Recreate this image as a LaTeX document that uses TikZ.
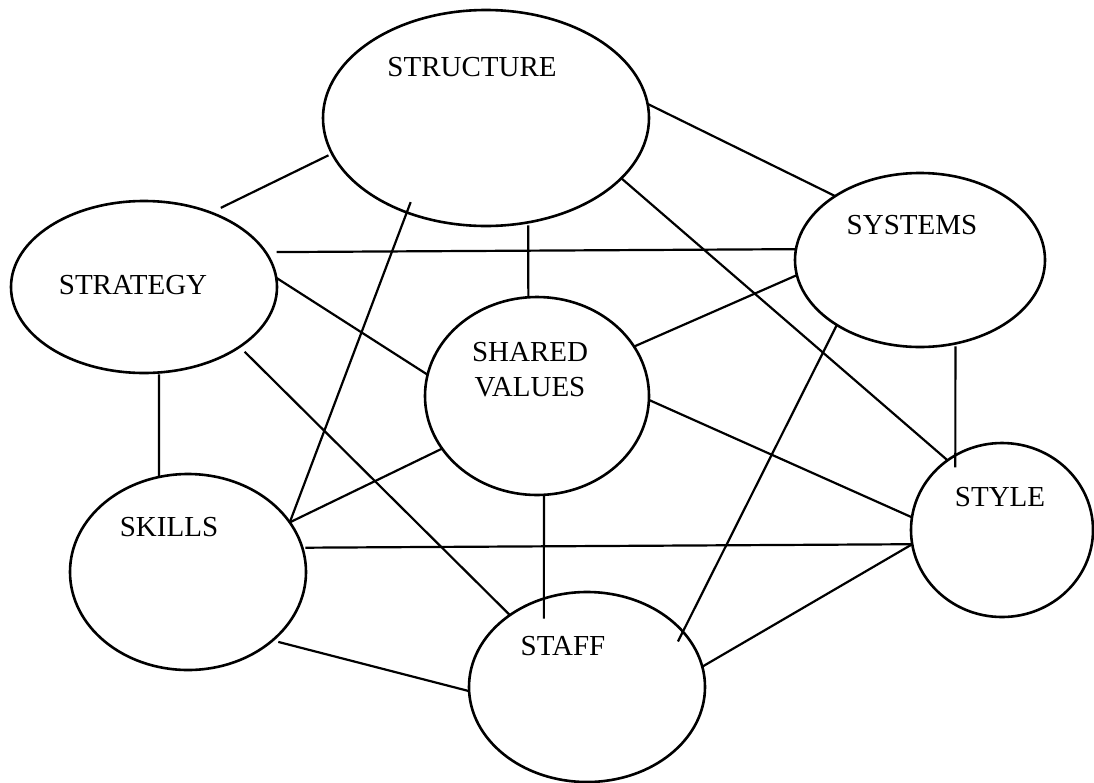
\documentclass[tikz,border=0pt]{standalone}
\usepackage{fontspec}
\setmainfont{Liberation Serif}
\usetikzlibrary{shapes.geometric}
\begin{document}
\begin{tikzpicture}[x=1pt,y=-1pt,
  oval/.style={ellipse, draw, line width=2.6pt, inner sep=0pt, outer sep=0pt},
  caption/.style={font=\fontsize{29}{35}\selectfont, inner sep=0pt, align=center},
  link/.style={line width=2.2pt}]
\useasboundingbox (0,0) rectangle (1094,782);

% the seven elements
\node[oval, minimum width=326pt, minimum height=216pt] (structure) at (486,118) {};
\node[oval, minimum width=266pt, minimum height=172pt] (strategy)  at (144,287) {};
\node[oval, minimum width=250pt, minimum height=174pt] (systems)   at (920,260) {};
\node[oval, minimum width=224pt, minimum height=198pt] (shared)    at (537,396) {};
\node[oval, minimum width=236pt, minimum height=196pt] (skills)    at (188,572) {};
\node[oval, minimum width=236pt, minimum height=190pt] (staff)     at (587,687) {};
\node[oval, minimum width=182pt, minimum height=174pt] (style)     at (1002,530) {};

% their names
\node[caption] (structure-name) at (472,67)  {STRUCTURE};
\node[caption] (strategy-name)  at (133,285) {STRATEGY};
\node[caption] (systems-name)   at (912,225) {SYSTEMS};
\node[caption] (shared-name)    at (530,370) {SHARED\\VALUES};
\node[caption] (skills-name)    at (169,527) {SKILLS};
\node[caption] (staff-name)     at (563,646) {STAFF};
\node[caption] (style-name)     at (1000,497) {STYLE};

% links between the elements
\draw[link, shorten >=11pt, shorten <=4pt] (structure.193) -- (strategy.48);
\draw[link] (structure.5) -- (systems.143);
\draw[link, shorten <=3pt] (structure.292) -- (shared.95);
\draw[link, shorten <=-11pt] (structure.230) -- (skills.26);
\draw[link] (structure.336) -- (style.128);

\draw[link, shorten <=11pt] (strategy.16) -- (systems.175);
\draw[link] (strategy.4) -- (shared.169);
\draw[link, shorten <=7pt] (strategy.328) -- (staff.137);
\draw[link, shorten <=2pt] (strategy.280) -- (skills.107);

\draw[link] (systems.187) -- (shared.27);
\draw[link, shorten >=-11pt] (systems.218) -- (staff.30);
\draw[link, shorten <=3pt, shorten >=-12pt] (systems.293) -- (style.122);

\draw[link] (shared.358) -- (style.172);
\draw[link] (shared.209) -- (skills.26);
\draw[link, shorten >=-20pt] (shared.274) -- (staff.116);

\draw[link, shorten <=3pt] (skills.12) -- (style.189);
\draw[link, shorten <=6pt] (skills.321) -- (staff.182);
\draw[link] (staff.10) -- (style.189);
\end{tikzpicture}
\end{document}
